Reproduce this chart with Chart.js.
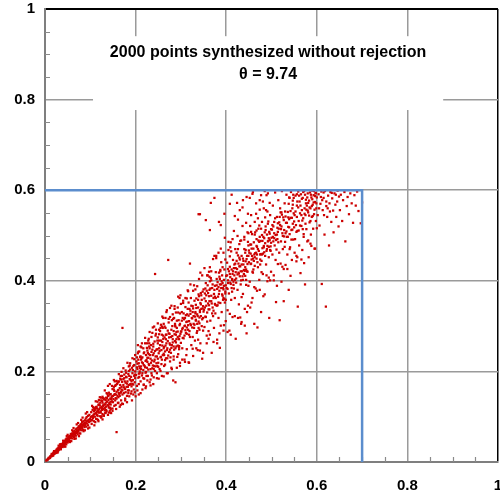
<!DOCTYPE html>
<html>
<head>
<meta charset="utf-8">
<script src="https://cdn.jsdelivr.net/npm/chart.js@4"></script>
<style>
  html, body { margin: 0; padding: 0; background: #fff; }
  #wrap { width: 500px; height: 494px; }
</style>
</head>
<body>
<div id="wrap"><canvas id="chart" width="500" height="494"></canvas></div>
<script>
// Scatter of synthesized points. Values are [x, y] in thousandths.
const titleLines = ['2000 points synthesized without rejection', 'θ = 9.74'];

const tickValues = [0, 0.2, 0.4, 0.6, 0.8, 1];
const tickLabels = ['0', '0.2', '0.4', '0.6', '0.8', '1'];

// limit box drawn in blue
const limitX = [0, 0.7, 0.7];
const limitY = [0.6, 0.6, 0];

const cloudNearOrigin = [
  [3,3],[4,5],[6,5],[7,7],[8,9],[9,8],[10,10],[11,9],[12,13],[12,11],[14,14],[15,13],[15,17],[16,16],[17,15],[18,19],[19,17],[19,21],[20,20],[21,18],[22,23],[22,21],[23,20],[24,25],[24,23],[25,22],[26,28],[26,26],[27,25],[28,30],[28,27],[29,24],[30,31],[30,29],[31,27],[32,34],[32,31],[33,30],[34,36],[34,33],[35,31],[35,39],[36,35],[37,34],[37,40],[38,36],[39,33],[39,38],[40,42],[40,39],[41,36],[42,45],[42,41],[43,38],[44,43],[44,47],[45,41],[46,45],[46,50],[47,44],[47,39],[48,47],[48,52],[49,45],[50,49],[50,43],
  [51,52],[52,46],[52,55],[53,50],[54,57],[55,53],[55,47],[56,58],[57,55],[57,62],[58,54],[59,59],[60,52],[60,63],[61,60],[62,57],[62,67],[63,61],[64,55],[64,64],[65,69],[66,63],[66,60],[67,66],[68,58],[68,72],[69,67],[70,64],[70,74],[71,70],[72,66],[72,61],[73,76],[74,71],[74,68],[75,79],[76,73],[76,63],[77,75],[78,82],[78,72],[79,77],[80,70],[80,84],[81,79],[82,75],[82,88],[83,80],[84,71],[84,83],[85,90],[86,81],[86,85],[87,77],[88,92],[88,86],[89,82],[90,96],[90,87],[91,78],[92,90],[92,99],[93,85],[94,91],[95,102],[95,81],[96,93],[97,88],[98,104],[99,95],[100,90],
  [20,24],[25,20],[30,36],[35,28],[40,47],[45,34],[50,60],[55,44],[60,70],[65,51],[70,83],[75,57],[80,93],[85,68],[90,107],[95,74],[15,18],[18,14],[28,21],[33,39],[43,34],[48,57],[58,46],[63,75],[68,52],[73,86],[78,63],[83,98],[88,70],[93,110],[98,76]
];

const cloudLower = [
  [101,99],[102,110],[103,92],[104,101],[105,115],[106,97],[107,104],[108,90],[108,112],[109,106],[110,100],[111,119],[112,108],[113,95],[114,111],[114,122],[115,104],[116,113],[117,93],[118,115],[118,126],[119,109],[120,117],[121,101],[122,120],[122,131],[123,112],[124,98],[125,122],[126,115],[126,135],[127,106],[128,125],[129,117],[130,103],[130,138],[131,127],[132,119],[133,108],[134,131],[135,122],[135,142],[136,112],[137,133],[138,126],[139,104],[140,137],[140,146],[141,120],[142,131],[143,113],[144,140],[145,127],[145,150],[146,108],[147,143],[148,134],[149,118],[150,146],[111,88],[138,150],[127,94],[104,124],[119,137],
  [151,139],[152,160],[153,124],[154,150],[155,168],[156,141],[157,117],[158,155],[159,172],[160,146],[161,130],[162,159],[163,178],[164,150],[165,122],[165,163],[166,184],[167,153],[168,136],[169,166],[170,190],[171,158],[172,128],[173,170],[174,152],[175,185],[176,162],[177,140],[178,175],[179,197],[180,166],[181,132],[182,178],[183,158],[184,194],[185,170],[186,145],[187,183],[188,204],[189,172],[190,151],[190,188],[191,178],[192,136],[193,196],[194,181],[195,212],[196,160],[197,190],[198,176],[199,200],[200,145],[158,66],[171,296],[185,201],[162,143],[176,178],[193,172],[153,148],[168,182],[180,187],
  [201,192],[202,222],[203,168],[204,205],[205,240],[206,186],[207,149],[208,211],[209,196],[210,232],[211,178],[212,205],[213,253],[214,191],[215,160],[216,218],[217,203],[218,240],[219,184],[220,212],[221,262],[222,197],[223,167],[224,225],[225,208],[226,246],[227,190],[228,230],[229,272],[230,214],[231,176],[232,236],[233,205],[234,258],[235,196],[236,224],[237,285],[238,213],[239,172],[240,240],[241,222],[242,266],[243,201],[244,233],[245,292],[246,218],[247,185],[248,249],[249,228],[250,210],[205,258],[215,231],[223,199],[237,248],[244,211],[210,207],[229,238],[243,415],[218,170],[233,182],[249,275],[207,195],[226,221],[240,205],[212,226]
];

const cloudMiddle = [
  [251,240],[252,282],[253,205],[254,258],[255,231],[256,303],[257,247],[258,190],[259,265],[260,236],[261,318],[262,251],[263,212],[264,275],[265,244],[266,296],[267,229],[268,262],[269,335],[270,251],[271,196],[272,446],[273,284],[274,243],[275,262],[276,320],[277,231],[278,276],[279,208],[280,258],[281,300],[282,271],[283,180],[284,289],[285,248],[286,344],[287,267],[288,176],[289,281],[290,255],[291,312],[292,232],[293,288],[294,365],[295,272],[296,249],[297,302],[298,212],[299,283],[300,263],[256,268],[263,236],[271,290],[279,252],[288,299],[296,271],[258,226],[267,281],[276,248],[284,233],[293,257],[252,251],[274,275],[290,287],[298,328],
  [301,288],[302,331],[303,251],[304,296],[305,356],[306,273],[307,315],[308,226],[309,301],[310,342],[311,285],[312,309],[313,249],[314,326],[315,379],[316,292],[317,220],[318,311],[319,338],[320,276],[321,305],[322,362],[323,258],[324,318],[325,297],[326,344],[327,234],[328,322],[329,390],[330,303],[331,268],[332,331],[333,314],[334,361],[335,285],[336,326],[337,247],[338,341],[339,310],[340,404],[341,292],[342,335],[343,262],[344,322],[345,368],[346,300],[347,228],[348,339],[349,318],[350,381],[304,318],[313,283],[321,327],[329,296],[336,305],[344,348],[308,279],[317,352],[326,276],[333,347],[341,319],[349,290],[339,547],[320,438],
  [351,336],[352,298],[353,372],[354,321],[355,395],[356,345],[357,262],[358,330],[359,412],[360,350],[361,289],[362,366],[363,337],[364,430],[365,312],[366,572],[367,355],[368,241],[369,384],[370,341],[371,448],[372,362],[373,296],[374,583],[375,389],[376,328],[377,362],[378,455],[379,345],[380,270],[381,397],[382,365],[383,318],[384,418],[385,378],[386,252],[387,351],[388,471],[389,392],[390,331],[391,370],[392,430],[393,384],[394,290],[395,402],[396,360],[397,495],[398,376],[399,311],[400,411],[355,355],[363,380],[371,322],[379,390],[386,404],[394,362],[358,310],[367,401],[375,349],[383,386],[392,395],[399,358],[388,523]
];

const cloudUpper = [
  [401,384],[402,440],[403,335],[404,401],[405,468],[406,372],[407,290],[408,415],[409,396],[410,485],[411,358],[412,425],[413,402],[414,320],[415,446],[416,391],[417,510],[418,412],[419,362],[420,438],[421,272],[422,405],[423,462],[424,426],[425,380],[426,535],[427,418],[428,348],[429,451],[430,410],[431,488],[432,392],[433,305],[434,436],[435,421],[436,562],[437,371],[438,444],[439,415],[440,497],[441,338],[442,430],[443,468],[444,402],[445,284],[446,455],[447,420],[448,548],[449,389],[450,441],[404,426],[413,376],[421,419],[429,432],[437,402],[444,425],[408,454],[417,383],[426,470],[434,364],[442,411],[449,478],
  [451,462],[452,398],[453,521],[454,437],[455,480],[456,352],[457,455],[458,592],[459,418],[460,471],[461,444],[462,305],[463,502],[464,461],[465,383],[466,548],[467,449],[468,475],[469,297],[470,430],[471,515],[472,466],[473,402],[474,578],[475,458],[476,488],[477,331],[478,444],[479,530],[480,472],[481,415],[482,497],[483,560],[484,463],[485,370],[486,483],[487,512],[488,436],[489,589],[490,470],[491,399],[492,526],[493,488],[494,452],[495,318],[496,504],[497,545],[498,466],[499,420],[500,495],[455,508],[463,452],[471,489],[479,458],[486,540],[494,475],[458,420],[467,511],[475,436],[483,477],[491,553],[499,484],
  [501,513],[502,458],[503,566],[504,487],[505,412],[506,530],[507,478],[508,595],[509,501],[510,353],[511,469],[512,541],[513,492],[514,437],[515,578],[516,515],[517,462],[518,313],[519,523],[520,551],[521,487],[522,398],[523,598],[524,505],[525,470],[526,540],[527,355],[528,512],[529,571],[530,486],[531,435],[532,528],[533,590],[534,497],[535,458],[536,552],[537,519],[538,380],[539,584],[540,503],[541,474],[542,539],[543,596],[544,512],[545,446],[546,560],[547,526],[548,491],[549,583],[550,518],[506,494],[514,527],[522,551],[531,505],[539,536],[547,577],[529,475]
];

const cloudTopEdge = [
  [551,545],[552,492],[553,588],[554,523],[555,443],[556,566],[557,510],[558,343],[559,597],[560,532],[561,478],[562,575],[563,549],[564,417],[565,591],[566,521],[567,556],[568,468],[569,583],[570,538],[571,503],[572,598],[573,560],[574,392],[575,545],[576,579],[577,514],[578,566],[579,487],[580,593],[581,551],[582,452],[583,577],[584,529],[585,595],[586,560],[587,502],[588,584],[589,541],[590,599],[591,568],[592,515],[593,589],[594,547],[595,471],[596,574],[597,593],[598,532],[599,560],[600,584],
  [602,545],[604,591],[606,522],[608,570],[610,597],[611,393],[613,556],[615,583],[617,502],[618,598],[620,343],[621,565],[623,541],[625,588],[627,478],[628,571],[630,596],[632,530],[634,582],[636,555],[637,507],[639,593],[641,568],[643,541],[645,575],[646,599],[648,520],[649,586],[612,578],[624,560],[633,594],[642,590],[605,560],[616,545],[629,553],
  [651,556],[653,590],[656,532],[658,578],[661,596],[663,487],[666,565],[668,585],[671,547],[674,593],[677,571],[680,528],[683,589],[686,566],[689,597],[692,554],[697,527],[700,573],
  [342,547],[355,534],[364,512],[384,530],[408,570],[424,572],[430,556],[437,578],[396,548],[412,590],[419,543],[445,585]
];

// second pass over the cloud, filling in the body between the rows above
const cloudFill = [
  [104,93],[137,141],[112,121],[188,171],[123,109],[166,170],[145,133],[179,188],[131,140],[157,149],[116,102],[194,203],[142,128],[171,149],[108,118],[183,166],[127,131],[162,177],[149,161],[135,115],[199,185],[118,110],[174,165],[155,136],[141,153],[186,190],[129,123],[168,155],[113,107],[191,167],[152,166],[124,136],[177,161],[146,139],[133,127],[160,174],[197,214],[110,115],[181,173],[139,146],[165,146],[121,125],[153,157],[189,181],[144,120],[170,177],[126,119],[158,140],[192,208],[134,137],[115,118],[175,193],[148,145],[163,152],[132,114],[185,158],[119,127],[169,160],[156,170],[140,124],[198,193],[128,141],[178,154],[106,101],[150,132],[187,213],[161,158],[143,149],[173,183],[195,171],
  [204,217],[262,239],[231,251],[287,301],[215,196],[249,262],[276,259],[208,188],[241,212],[293,276],[223,236],[258,281],[270,229],[234,219],[285,318],[212,211],[247,233],[279,292],[219,242],[266,257],[296,254],[228,204],[253,245],[282,264],[206,226],[239,261],[273,308],[217,185],[261,272],[290,271],[226,230],[250,219],[278,241],[203,209],[244,279],[268,281],[298,305],[221,209],[256,232],[288,251],[235,243],[264,299],[211,233],[246,248],[281,278],[229,216],[259,257],[294,330],[214,220],[242,226],[271,267],[300,288],[225,252],[254,289],[284,255],[237,207],[263,254],[291,296],[209,200],[248,268],[275,283],[230,262],[257,216],[286,282],[218,214],[243,245],[269,247],[297,278],[233,228],[260,296],[289,264],[222,223],[252,268],[280,313],[207,218],[238,236],[267,271],[295,313],[227,241],[265,225],
  [304,274],[352,361],[327,339],[381,346],[311,324],[365,383],[339,296],[395,389],[318,281],[346,358],[372,334],[302,312],[359,390],[333,312],[387,421],[315,338],[368,350],[342,331],[398,372],[322,302],[355,320],[379,404],[308,300],[349,344],[375,365],[330,356],[361,337],[391,412],[313,297],[344,373],[384,371],[325,317],[357,378],[370,392],[337,322],[393,358],[306,328],[350,332],[377,419],[319,289],[363,355],[334,340],[389,384],[310,291],[347,315],[374,380],[328,305],[366,406],[340,366],[396,425],[317,323],[353,341],[383,352],[323,345],[360,373],[336,289],[390,399],[303,293],[345,338],[376,347],[331,321],[364,399],[399,390],[314,310],[356,368],[380,382],[338,358],[369,328],[394,381],[321,334],[348,376],[386,392],[309,318],[341,306],[373,371],[326,331],[362,346],[392,367],[316,302],[354,383],[385,409],[332,328],[367,367],[397,352],[343,351],
  [404,395],[456,471],[427,438],[481,460],[412,384],[467,492],[439,424],[495,508],[418,436],[446,421],[473,486],[402,412],[459,449],[433,401],[487,520],[415,421],[468,458],[442,462],[498,476],[422,396],[455,438],[479,501],[408,431],[449,455],[475,447],[430,447],[461,485],[491,477],[413,404],[444,391],[484,494],[425,414],[457,503],[470,470],[437,449],[493,531],[406,421],[450,467],[477,515],[419,402],[463,433],[434,455],[489,466],[410,393],[447,437],[474,497],[428,416],[466,462],[440,470],[496,490],[417,428],[453,480],[483,474],[423,444],[460,425],[436,410],[490,502],[403,382],[445,448],[476,459],[431,432],[464,507],[499,514],[414,415],[456,447],[480,488],[438,436],[469,441],[494,494],[421,428],[448,486],[486,455],[409,408],[441,422],[473,522],[426,456],[462,458],[492,487],[416,398],[454,460],[485,507],[432,421],[467,477],[497,468],[443,443],
  [503,497],[556,541],[527,534],[581,572],[512,502],[567,581],[539,518],[595,557],[518,541],[546,513],[573,548],[502,523],[559,562],[533,509],[587,590],[515,485],[568,533],[542,554],[598,594],[522,520],[555,508],[579,584],[508,538],[549,549],[575,526],[530,553],[561,588],[591,543],[513,517],[544,491],[584,562],[525,499],[557,575],[570,596],[537,540],[593,573],[506,505],[550,531],[577,557],[519,560],[563,522],[534,528],[589,565],[510,490],[547,568],[574,590],[528,498],[566,545],[540,583],[596,587],[517,529],[553,553],[583,544],[523,546],[560,511],[536,497],[590,580],[504,520],[545,539],[576,571],[531,542],[564,566],[599,571],[514,508],[556,591],[580,555],[538,570],[569,514],[594,598],[521,514],[548,590],[586,532],[609,585],[621,575],[615,595]
];

// third pass: the flanks above and below the main band, which is wider than it first looks
const cloudSpread = [
  [103,84],[118,90],[134,109],[149,113],[162,131],[177,136],[191,156],[109,81],[125,101],[141,109],[156,126],[170,129],[184,152],[198,154],[114,95],[130,102],[145,117],[167,126],[181,146],[195,149],
  [106,121],[121,143],[136,152],[152,181],[167,190],[182,219],[197,227],[112,134],[127,144],[143,172],[158,179],[173,207],[188,218],[116,133],[132,158],[148,168],[163,194],[178,202],[193,229],[124,142],[139,168],[154,178],[169,199],[185,211],[199,236],
  [204,158],[218,171],[233,169],[247,196],[262,189],[276,222],[291,208],[211,152],[226,180],[240,187],[255,201],[269,196],[284,226],[298,219],[207,172],[222,163],[236,191],[251,184],[265,215],[280,205],[294,238],
  [203,231],[214,262],[228,268],[241,299],[255,296],[268,331],[282,326],[297,362],[208,244],[221,274],[235,276],[249,306],[262,305],[276,340],[289,330],[211,255],[225,262],[238,297],[252,292],[266,318],[279,345],[293,341],[217,251],[231,287],[245,283],[259,321],[273,316],[286,338],[300,349],[206,243],[230,255],[258,299],[283,316],[299,368],
  [213,229],[239,255],[261,279],[287,305],[224,190],[248,212],[272,235],[296,256],
  [303,226],[318,219],[334,251],[349,241],[364,281],[380,262],[395,302],[410,281],[426,318],[441,301],[309,221],[326,250],[342,246],[357,279],[372,265],[388,301],[403,287],[419,322],[434,309],[448,345],[312,236],[338,270],[361,272],[385,284],[408,327],[431,319],[446,331],
  [305,351],[321,392],[336,388],[352,428],[367,421],[383,462],[398,447],[414,492],[429,481],[444,528],[310,362],[327,378],[343,418],[358,412],[374,455],[389,441],[405,486],[420,470],[436,521],[449,505],[316,377],[332,381],[347,412],[363,409],[378,450],[394,462],[409,474],[425,499],[440,491],[313,361],[339,370],[362,420],[387,424],[411,465],[433,489],[447,507],
  [453,341],[468,378],[482,366],[497,401],[512,389],[527,426],[542,411],[557,452],[572,439],[588,477],[458,362],[474,380],[489,412],[505,401],[520,438],[535,426],[551,462],[566,447],[581,489],[596,471],[462,386],[478,419],[494,407],[509,446],[524,431],[540,470],[555,455],[571,497],[586,482],[600,516],
  [455,545],[466,571],[477,589],[488,556],[452,583],[463,530],[474,557],[485,598],[496,572],[459,596],[470,538],[481,575],[492,593]
];

const allPoints = [...cloudNearOrigin, ...cloudLower, ...cloudMiddle, ...cloudUpper, ...cloudTopEdge, ...cloudFill, ...cloudSpread]
  .map(([x, y]) => ({ x: x / 1000, y: y / 1000 }));

const FONT = '"Liberation Sans", Arial, sans-serif';
const isOne = (v) => Math.abs(v - 1) < 1e-9;

// white box with the two-line title, sitting over the grid
const titleBox = {
  id: 'titleBox',
  beforeDatasetsDraw(chart) {
    const { ctx, scales: { x, y } } = chart;
    const left = x.getPixelForValue(0.106);
    const right = x.getPixelForValue(0.879);
    const top = y.getPixelForValue(0.94);
    const bottom = y.getPixelForValue(0.777);
    ctx.save();
    ctx.fillStyle = '#fff';
    ctx.fillRect(left, top, right - left, bottom - top);
    ctx.fillStyle = '#000';
    ctx.font = 'bold 16px ' + FONT;
    ctx.textAlign = 'center';
    ctx.textBaseline = 'alphabetic';
    const cx = (left + right) / 2;
    ctx.fillText(titleLines[0], cx, top + 21);
    ctx.fillText(titleLines[1], cx, top + 43);
    ctx.restore();
  },
};

// short inward minor ticks every 0.05 on both axes
const minorTicks = {
  id: 'minorTicks',
  beforeDatasetsDraw(chart) {
    const { ctx, chartArea: a, scales: { x, y } } = chart;
    ctx.save();
    ctx.strokeStyle = '#8a8a8a';
    ctx.lineWidth = 1.2;
    ctx.beginPath();
    for (let i = 1; i < 20; i++) {
      if (i % 4 === 0) continue;
      const v = i * 0.05;
      const py = Math.round(y.getPixelForValue(v)) + 0.5;
      ctx.moveTo(a.left, py);
      ctx.lineTo(a.left + 5, py);
      const px = Math.round(x.getPixelForValue(v)) + 0.5;
      ctx.moveTo(px, a.bottom);
      ctx.lineTo(px, a.bottom - 5);
    }
    ctx.stroke();
    ctx.restore();
  },
};

const tickFont = { family: FONT, size: 15, weight: 'bold' };

function fixed(size, horizontal) {
  return (s) => {
    if (horizontal) s.height = size; else s.width = size;
    s.paddingTop = 0; s.paddingBottom = 0; s.paddingLeft = 0; s.paddingRight = 0;
  };
}

function gridFor(topWidth) {
  return {
    drawTicks: false,
    color: (c) => (c.tick && isOne(c.tick.value) ? '#000' : '#9a9a9a'),
    lineWidth: (c) => (c.tick && isOne(c.tick.value) ? topWidth : 1.5),
  };
}

new Chart(document.getElementById('chart'), {
  type: 'scatter',
  data: {
    datasets: [
      {
        type: 'line',
        data: limitX.map((x, i) => ({ x, y: limitY[i] })),
        borderColor: '#5b8dcd',
        borderWidth: 2.5,
        pointRadius: 0,
        fill: false,
        tension: 0,
      },
      {
        data: allPoints,
        backgroundColor: '#cc0000',
        borderWidth: 0,
        pointStyle: 'rect',
        pointRadius: 1.6,
        pointHoverRadius: 1.6,
      },
    ],
  },
  options: {
    responsive: false,
    animation: false,
    events: [],
    layout: { autoPadding: false, padding: { top: 9, right: 2, left: 0, bottom: 0 } },
    plugins: { legend: { display: false }, tooltip: { enabled: false } },
    scales: {
      x: {
        type: 'linear',
        position: 'bottom',
        min: 0,
        max: 1,
        afterBuildTicks: (scale) => { scale.ticks = tickValues.map((v) => ({ value: v })); },
        afterFit: fixed(32, true),
        grid: gridFor(1.5),
        border: { display: true, color: '#7f7f7f', width: 2 },
        ticks: {
          color: '#000',
          font: tickFont,
          padding: 15,
          maxRotation: 0,
          callback: (value, index) => tickLabels[index],
        },
      },
      y: {
        type: 'linear',
        position: 'left',
        min: 0,
        max: 1,
        afterBuildTicks: (scale) => { scale.ticks = tickValues.map((v) => ({ value: v })); },
        afterFit: fixed(45, false),
        grid: gridFor(2),
        border: { display: true, color: '#7f7f7f', width: 2 },
        ticks: {
          color: '#000',
          font: tickFont,
          padding: 10,
          callback: (value, index) => tickLabels[index],
        },
      },
    },
  },
  plugins: [titleBox, minorTicks],
});
</script>
</body>
</html>
